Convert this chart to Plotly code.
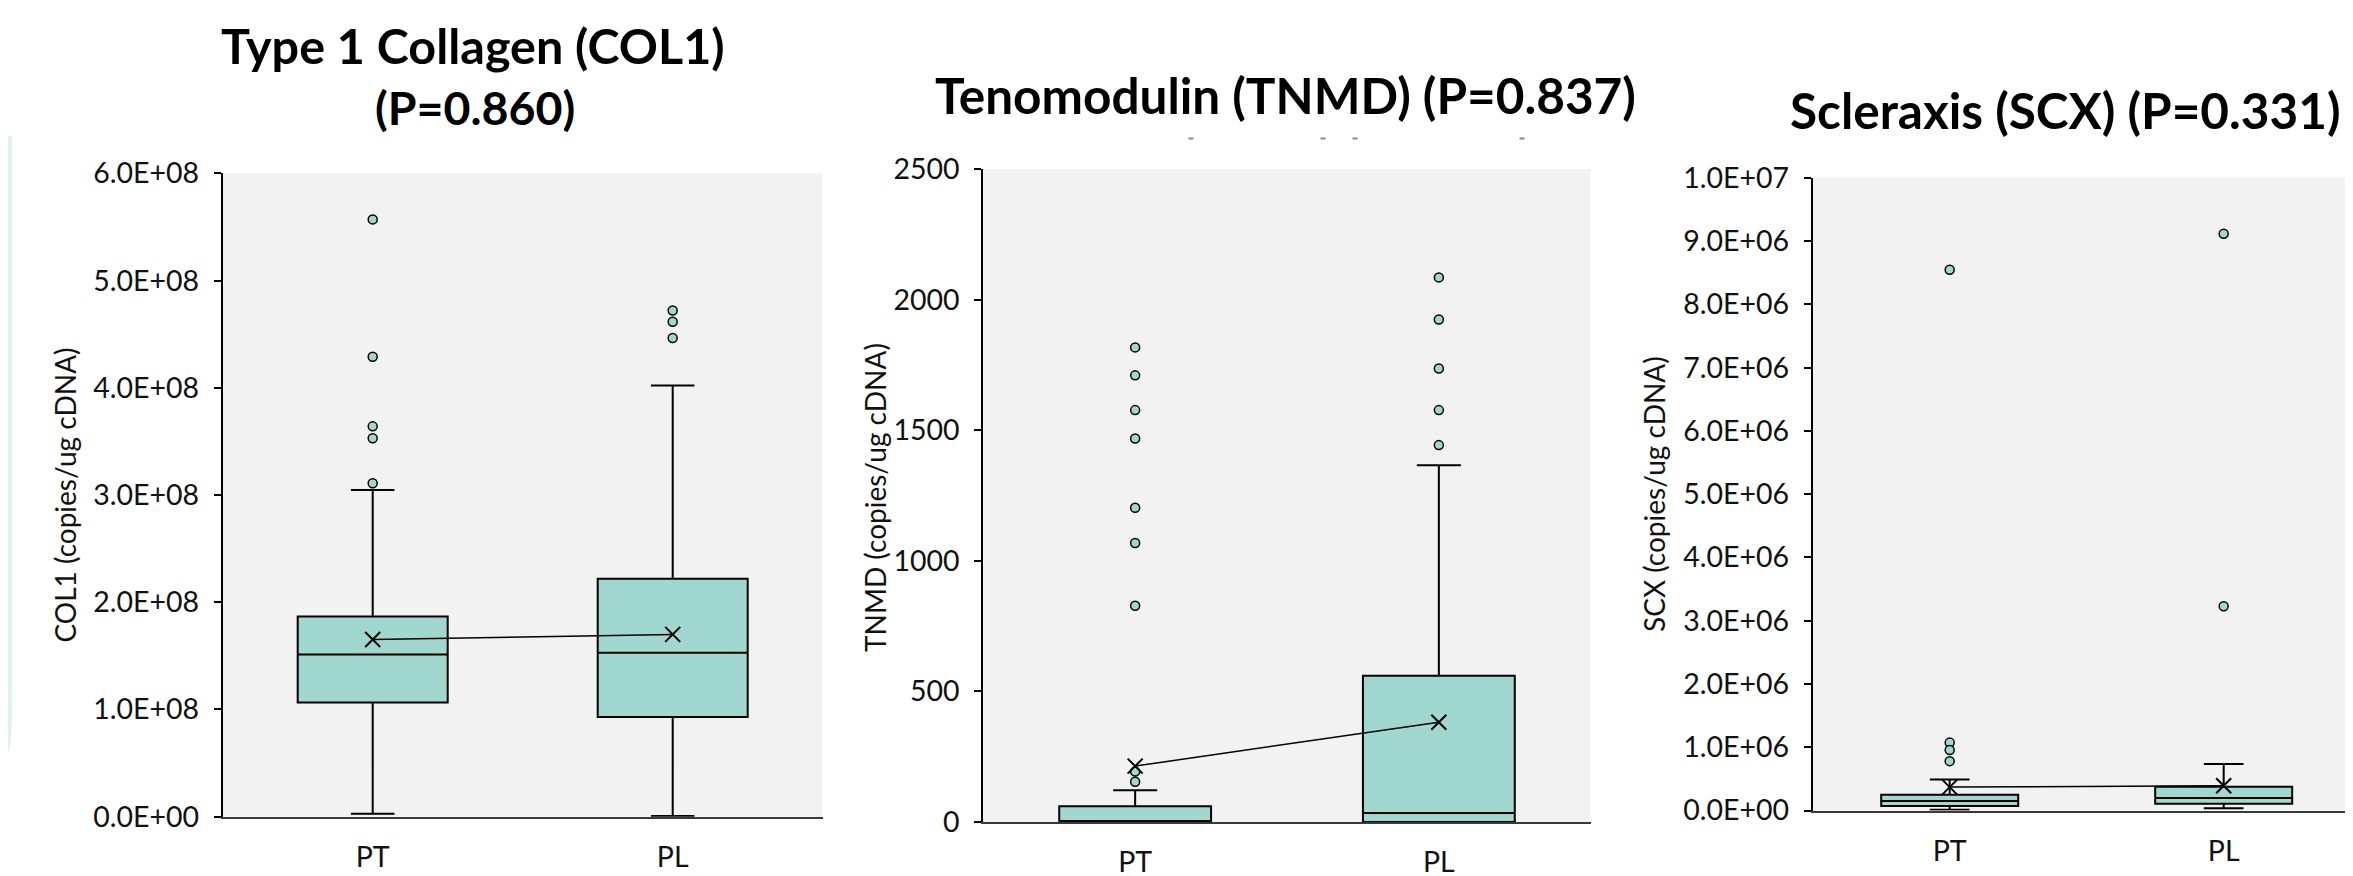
import plotly.graph_objects as go

W, H = 2353, 876
OFF = 8  # browser default body margin: page pixel = OFF + figure pixel

categories = ["PT", "PL"]

# ---- COL1 ----
col1_q1 = [1.066e8, 0.929e8]
col1_median = [1.513e8, 1.528e8]
col1_q3 = [1.868e8, 2.218e8]
col1_lower = [0.028e8, 0.006e8]
col1_upper = [3.047e8, 4.02e8]
col1_mean = [1.653e8, 1.70e8]
col1_out_pt = [5.57e8, 4.29e8, 3.64e8, 3.53e8, 3.11e8]
col1_out_pl = [4.72e8, 4.615e8, 4.464e8]
col1_ticks = [0, 1e8, 2e8, 3e8, 4e8, 5e8, 6e8]
col1_ticktext = ["0.0E+00", "1.0E+08", "2.0E+08", "3.0E+08", "4.0E+08", "5.0E+08", "6.0E+08"]

# ---- TNMD ----
tnmd_q1 = [0, 0]
tnmd_median = [1, 34]
tnmd_q3 = [60, 560]
tnmd_lower = [0, 0]
tnmd_upper = [122, 1366]
tnmd_mean = [214, 382]
tnmd_out_pt = [154, 193, 828, 1068, 1203, 1468, 1577, 1710, 1817]
tnmd_out_pl = [1443, 1577, 1736, 1924, 2085]
tnmd_ticks = [0, 500, 1000, 1500, 2000, 2500]
tnmd_ticktext = ["0", "500", "1000", "1500", "2000", "2500"]

# ---- SCX ----
scx_q1 = [0.07e6, 0.107e6]
scx_median = [0.15e6, 0.197e6]
scx_q3 = [0.248e6, 0.376e6]
scx_lower = [0.01e6, 0.035e6]
scx_upper = [0.49e6, 0.734e6]
scx_mean = [0.37e6, 0.39e6]
scx_out_pt = [8.546e6, 1.073e6, 0.957e6, 0.78e6]
scx_out_pl = [9.113e6, 3.227e6]
scx_ticks = [0, 1e6, 2e6, 3e6, 4e6, 5e6, 6e6, 7e6, 8e6, 9e6, 1e7]
scx_ticktext = ["0.0E+00", "1.0E+06", "2.0E+06", "3.0E+06", "4.0E+06", "5.0E+06",
                "6.0E+06", "7.0E+06", "8.0E+06", "9.0E+06", "1.0E+07"]

title_lines = ["Type 1 Collagen (COL1)", "(P=0.860)",
               "Tenomodulin (TNMD) (P=0.837)",
               "Scleraxis (SCX) (P=0.331)"]
ytitles = ["COL1 (copies/ug cDNA)", "TNMD (copies/ug cDNA)", "SCX (copies/ug cDNA)"]

FILL = "#a0d8d0"
FONT = "Lato"
TXT = "#111111"


def fx(px):
    return (px - OFF) / W


def fy(py):
    return 1 - (py - OFF) / H


panels = [
    dict(q1=col1_q1, med=col1_median, q3=col1_q3, lo=col1_lower, hi=col1_upper, mean=col1_mean,
         opt=col1_out_pt, opl=col1_out_pl, ticks=col1_ticks, ticktext=col1_ticktext, yr=[0, 6e8],
         px=(222.7, 822.7), py=(173.3, 816.7), xr=[-0.5, 1.5]),
    dict(q1=tnmd_q1, med=tnmd_median, q3=tnmd_q3, lo=tnmd_lower, hi=tnmd_upper, mean=tnmd_mean,
         opt=tnmd_out_pt, opl=tnmd_out_pl, ticks=tnmd_ticks, ticktext=tnmd_ticktext, yr=[0, 2500],
         px=(983.3, 1590.7), py=(169.0, 822.0), xr=[-0.5, 1.5]),
    dict(q1=scx_q1, med=scx_median, q3=scx_q3, lo=scx_lower, hi=scx_upper, mean=scx_mean,
         opt=scx_out_pt, opl=scx_out_pl, ticks=scx_ticks, ticktext=scx_ticktext, yr=[0, 1e7],
         px=(1812.7, 2353.0), py=(177.7, 810.5), xr=[-0.5, 1.472]),
]

fig = go.Figure()
layout = dict(template="none", width=W, height=H, margin=dict(l=0, r=0, t=0, b=0, pad=0),
              autosize=False, paper_bgcolor="white", plot_bgcolor="#f2f2f2",
              showlegend=False, font=dict(family=FONT, color=TXT))
annotations = []
shapes = []

for i, p in enumerate(panels):
    n = "" if i == 0 else str(i + 1)
    xa, ya = "x" + n, "y" + n
    fig.add_trace(go.Box(
        x=categories, q1=p["q1"], median=p["med"], q3=p["q3"],
        lowerfence=p["lo"], upperfence=p["hi"], boxpoints=False,
        fillcolor=FILL, line=dict(color="black", width=2), width=0.5,
        whiskerwidth=0.29, xaxis=xa, yaxis=ya, hoverinfo="skip"))
    ox = ["PT"] * len(p["opt"]) + ["PL"] * len(p["opl"])
    oy = p["opt"] + p["opl"]
    fig.add_trace(go.Scatter(
        x=ox, y=oy, mode="markers", xaxis=xa, yaxis=ya,
        marker=dict(symbol="circle", size=9, color=FILL, line=dict(color="black", width=1.5)),
        cliponaxis=False))
    fig.add_trace(go.Scatter(
        x=categories, y=p["mean"], mode="lines+markers", xaxis=xa, yaxis=ya,
        line=dict(color="black", width=1.5),
        marker=dict(symbol="x-thin", size=15, color="black", line=dict(color="black", width=2)),
        cliponaxis=False))

    x0, x1 = p["px"]
    y0, y1 = p["py"]
    layout["xaxis" + n] = dict(
        domain=[fx(x0), min(fx(x1), 1.0)], anchor=ya, type="category", automargin=False,
        categoryorder="array", categoryarray=categories, range=p["xr"],
        showline=True, linecolor="#3a3a3a", linewidth=2, ticks="", showgrid=False,
        zeroline=False, tickfont=dict(family=FONT, size=28.5, color=TXT),
        ticklabelstandoff=14)
    layout["yaxis" + n] = dict(
        domain=[fy(y1), fy(y0)], anchor=xa, range=p["yr"], automargin=False,
        tickvals=p["ticks"], ticktext=p["ticktext"],
        showline=True, linecolor="black", linewidth=2, ticks="outside", ticklen=7,
        tickwidth=2, tickcolor="black", showgrid=False, zeroline=False,
        tickfont=dict(family=FONT, size=28.5, color=TXT), ticklabelstandoff=9)

# titles
title_pos = [(473, 45, 48.5), (475, 107, 46.5), (1285, 95, 49.5), (2065, 109.5, 49.5)]
for t, (tx, ty, fs) in zip(title_lines, title_pos):
    annotations.append(dict(text="<b>" + t + "</b>", x=fx(tx), y=fy(ty), xref="paper",
                            yref="paper", xanchor="center", yanchor="middle", showarrow=False,
                            font=dict(family=FONT, size=fs, color="black")))
ytitle_pos = [(64.5, 495), (875, 497), (1654, 494)]
for t, (tx, ty) in zip(ytitles, ytitle_pos):
    annotations.append(dict(text=t, x=fx(tx), y=fy(ty), xref="paper", yref="paper",
                            xanchor="center", yanchor="middle", showarrow=False, textangle=-90,
                            font=dict(family=FONT, size=28, color=TXT)))

# decorative band at left edge (only the part inside the figure is drawable)
def P(px, py):
    return f"{max(fx(px), 0):.6f},{fy(py):.6f}"
band = f"M {P(0,136)} L {P(12,136)} L {P(12,695)} Q {P(12,750)} {P(0,752)} Z"
shapes.append(dict(type="path", path=band, xref="paper", yref="paper",
                   fillcolor="#def2ee", line=dict(width=0), layer="below"))
# small residual dashes under the TNMD title
for dx in [1191, 1323, 1355, 1522]:
    shapes.append(dict(type="line", xref="paper", yref="paper",
                       x0=fx(dx - 2.5), x1=fx(dx + 2.5), y0=fy(138.5), y1=fy(138.5),
                       line=dict(color="#888888", width=2)))

layout["annotations"] = annotations
layout["shapes"] = shapes
fig.update_layout(**layout)
fig.write_html("out.html")
